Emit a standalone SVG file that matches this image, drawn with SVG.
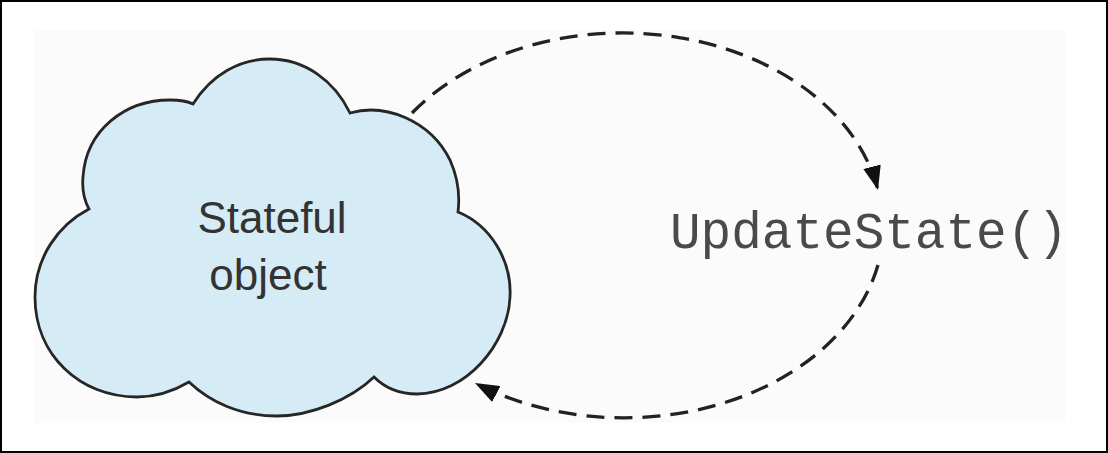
<svg xmlns="http://www.w3.org/2000/svg" width="1108" height="453" viewBox="0 0 1108 453">
  <style>
    .cloud { fill: #d5ebf5; stroke: #262626; stroke-width: 2.8; stroke-linejoin: miter; }
    .label { font-family: "Liberation Sans", Arial, sans-serif; font-size: 44px; fill: #333333; text-anchor: middle; }
    .code { font-family: "Liberation Mono", "Courier New", monospace; font-size: 51px; fill: #4a4a4a; }
    .conn { fill: none; stroke: #222222; stroke-width: 3.3; stroke-dasharray: 18 10; }
  </style>
  <defs>
    <marker id="arrow" markerUnits="userSpaceOnUse" markerWidth="26" markerHeight="18" refX="24" refY="9" orient="auto">
      <path d="M0,0 L24,9 L0,18 Z" fill="#111111"/>
    </marker>
  </defs>
  <rect x="0" y="0" width="1108" height="453" fill="#ffffff"/>
  <rect x="35" y="30" width="1030" height="393" fill="#fbfbfb"/>
  <rect x="1" y="1" width="1106" height="451" fill="none" stroke="#000000" stroke-width="2"/>

  <g id="stateful-object">
    <path class="cloud" d="M193,104 C212,74 240,59 270,59 C304,59 334,80 350,113 C385,103 430,120 450,160 C458,178 460,196 458,212 C490,225 512,260 510,297 C508,345 465,394 417,394 C400,394 385,388 374,377 C350,400 310,416 277,416 C240,416 210,402 189,382 C172,392 155,397 137,397 C80,397 35,355 35,297 C35,258 58,225 89,209 C84,200 82,188 83,177 C86,130 125,100 170,100 C180,100 187,101 193,104 Z"/>
    <text class="label" x="272" y="233">Stateful</text>
    <text class="label" x="268" y="290">object</text>
  </g>

  <g id="update-state">
    <text class="code" x="670" y="248">UpdateState()</text>
  </g>

  <g id="connectors">
    <path class="conn" d="M412,113 A260,193.5 0 0 1 878,190" marker-end="url(#arrow)"/>
    <path class="conn" d="M878,265 A260,193.5 0 0 1 475,383" marker-end="url(#arrow)"/>
  </g>
</svg>
